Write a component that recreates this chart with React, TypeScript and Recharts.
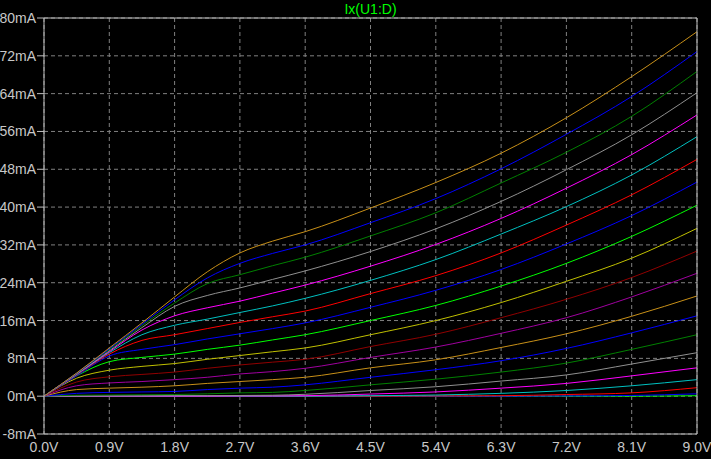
import React from 'react';
import { LineChart, Line, XAxis, YAxis, CartesianGrid, ReferenceLine } from 'recharts';

// drain voltage sweep points (V)
const vds = [0, 0.45, 0.9, 1.35, 1.8, 2.25, 2.7, 3.15, 3.6, 4.5, 5.4, 6.3, 7.2, 8.1, 9.0];

// drain current per gate step (mA), lowest curve first
const c1 = [0, 0, 0, 0, 0, 0, 0, 0, 0, 0, 0, 0, 0, 0, 0.1];
const c2 = [0, 0, 0, 0, 0, 0, 0, 0, 0, 0, 0, 0, 0.05, 0.15, 0.5];
const c3 = [0, 0, 0, 0, 0, 0, 0, 0, 0, 0, 0.05, 0.1, 0.35, 0.7, 1.8];
const c4 = [0, 0, 0, 0, 0, 0, 0, 0, 0, 0.1, 0.25, 0.6, 1.2, 2.2, 3.5];
const c5 = [0, 0, 0, 0, 0, 0, 0.05, 0.05, 0.1, 0.45, 0.9, 1.7, 2.7, 4.3, 6.0];
const c6 = [0, 0, 0.05, 0.05, 0.1, 0.1, 0.15, 0.2, 0.4, 1.2, 2.0, 3.2, 4.5, 6.8, 9.2];
const c7 = [0, 0.2, 0.25, 0.3, 0.35, 0.5, 0.7, 0.8, 1.2, 2.4, 3.6, 5.1, 7.0, 9.9, 13.0];
const c8 = [0, 0.6, 0.8, 0.9, 1.0, 1.4, 1.7, 1.9, 2.4, 4.0, 5.6, 7.5, 10.1, 13.4, 17.0];
const c9 = [0, 1.4, 1.7, 1.9, 2.2, 2.7, 3.1, 3.5, 4.0, 6.0, 7.7, 10.3, 13.2, 16.9, 21.2];
const c10 = [0, 2.2, 2.8, 3.1, 3.5, 4.0, 4.7, 5.2, 5.9, 8.2, 10.4, 13.3, 16.6, 21.0, 26.0];
const c11 = [0, 3.0, 4.1, 4.6, 5.1, 5.9, 6.6, 7.2, 7.8, 10.5, 13.1, 16.6, 20.5, 25.1, 30.7];
const c12 = [0, 3.8, 5.5, 6.3, 6.9, 7.8, 8.6, 9.4, 10.2, 13.0, 16.0, 19.8, 24.3, 29.2, 35.5];
const c13 = [0, 4.3, 7.3, 8.2, 8.9, 9.9, 10.8, 11.9, 13.0, 16.0, 19.2, 23.3, 28.1, 33.8, 40.4];
const c14 = [0, 4.3, 8.5, 9.9, 10.9, 12.1, 13.2, 14.3, 15.5, 18.8, 22.4, 26.8, 32.2, 38.2, 45.3];
const c15 = [0, 4.5, 8.9, 11.8, 13.0, 14.3, 15.6, 16.8, 18.0, 21.7, 25.5, 30.3, 36.2, 42.6, 50.1];
const c16 = [0, 4.6, 9.2, 13.0, 15.0, 16.3, 17.7, 19.1, 20.7, 24.5, 28.9, 34.3, 40.1, 46.8, 54.9];
const c17 = [0, 4.7, 9.4, 14.0, 17.0, 18.7, 20.1, 21.8, 23.5, 27.5, 32.1, 37.6, 44.0, 51.1, 59.5];
const c18 = [0, 4.75, 9.6, 14.5, 19.0, 21.3, 22.9, 24.7, 26.5, 30.6, 35.4, 41.2, 47.9, 55.3, 64.2];
const c19 = [0, 4.8, 9.8, 14.9, 19.7, 23.8, 25.7, 27.6, 29.4, 33.9, 38.8, 45.1, 51.6, 59.2, 68.7];
const c20 = [0, 4.85, 10.0, 15.2, 20.4, 25.0, 28.1, 30.2, 32.0, 36.7, 41.8, 48.1, 55.4, 63.4, 72.9];
const c21 = [0, 4.9, 10.2, 15.5, 21.0, 26.3, 30.3, 32.8, 34.8, 39.8, 45.2, 51.4, 58.9, 67.6, 77.1];

const curves = [c1, c2, c3, c4, c5, c6, c7, c8, c9, c10, c11, c12, c13, c14, c15, c16, c17, c18, c19, c20, c21];

// LTspice trace colour cycle
const palette = [
  '#00ff00', '#0000ff', '#ff0000', '#00c0c0', '#ff00ff', '#909090',
  '#008000', '#0000ff', '#c89018', '#a000a0', '#900000', '#c0c000',
];

const xTicks = [0, 0.9, 1.8, 2.7, 3.6, 4.5, 5.4, 6.3, 7.2, 8.1, 9.0];
const yTicks = [-8, 0, 8, 16, 24, 32, 40, 48, 56, 64, 72, 80];

const data = vds.map((v, i) => {
  const row: Record<string, number> = { v };
  curves.forEach((c, k) => {
    row['c' + (k + 1)] = c[i];
  });
  return row;
});

const axisColor = '#c0c0c0';
const font = { fill: '#c8c8c8', fontSize: 14, fontFamily: '"Liberation Sans", Arial, sans-serif' };

export default function App() {
  return (
    <div style={{ position: 'absolute', left: 0, top: 0, width: 711, height: 459, background: '#000' }}>
      <div
        style={{
          position: 'absolute', left: 0, top: 0, width: 741, height: 18, lineHeight: '18px',
          textAlign: 'center', color: '#00ff00', fontSize: 14,
          fontFamily: '"Liberation Sans", Arial, sans-serif',
        }}
      >
        Ix(U1:D)
      </div>
      <LineChart width={711} height={459} data={data} margin={{ top: 18, right: 14, bottom: 0, left: 0 }}>
        <CartesianGrid stroke="#808080" strokeDasharray="4 3" />
        <XAxis
          dataKey="v"
          type="number"
          domain={[0, 9]}
          ticks={xTicks}
          interval={0}
          tickFormatter={(v: number) => `${v.toFixed(1)}V`}
          tick={font}
          tickLine={false}
          tickSize={0}
          tickMargin={8}
          height={25}
          stroke={axisColor}
          allowDataOverflow
        />
        <YAxis
          type="number"
          domain={[-8, 80]}
          ticks={yTicks}
          interval={0}
          tickFormatter={(v: number) => `${v}mA`}
          tick={font}
          tickSize={7}
          tickMargin={1}
          width={44}
          stroke={axisColor}
          allowDataOverflow
        />
        {curves.map((_, k) => (
          <Line
            key={k}
            type="monotone"
            dataKey={'c' + (k + 1)}
            stroke={palette[k % palette.length]}
            strokeWidth={1}
            dot={false}
            isAnimationActive={false}
          />
        ))}
        <ReferenceLine y={80} stroke={axisColor} />
        <ReferenceLine x={9} stroke={axisColor} />
      </LineChart>
    </div>
  );
}
